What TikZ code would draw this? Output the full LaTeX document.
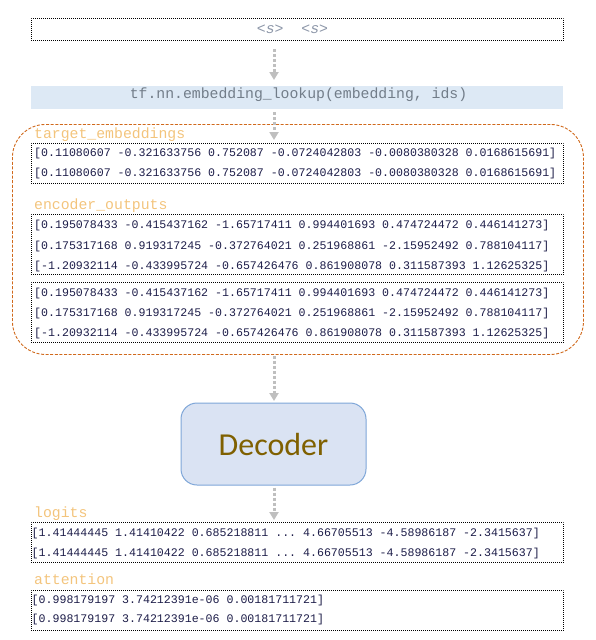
\documentclass[tikz,border=0pt]{standalone}
\usepackage{fontspec}
\setmonofont{Liberation Mono}
\newfontfamily\decfont{Carlito}
\usetikzlibrary{arrows.meta}
\definecolor{arrowgray}{HTML}{BFBFBF}
\definecolor{navytxt}{HTML}{1C1C48}
\definecolor{lblorange}{HTML}{F3C47C}
\definecolor{bandblue}{HTML}{DDE9F5}
\definecolor{bandtxt}{HTML}{727D89}
\definecolor{stxt}{HTML}{8C96A8}
\definecolor{contorange}{HTML}{D0691C}
\definecolor{decfill}{HTML}{DAE3F3}
\definecolor{decdraw}{HTML}{7EA6D8}
\definecolor{dectxt}{HTML}{7F6000}
\begin{document}
\begin{tikzpicture}[x=1pt,y=-1pt,
  dbox/.style={draw=black, line width=0.8pt, dash pattern=on 0.8pt off 1.2pt,
    minimum width=532pt, inner sep=0pt, anchor=north west},
  rowtxt/.style={anchor=base west, inner sep=0pt, font=\fontsize{11.6}{13}\ttfamily, text=navytxt},
  lbl/.style={anchor=base west, inner sep=0pt, font=\fontsize{14.8}{16}\ttfamily, text=lblorange},
  flow/.style={draw=arrowgray, line width=3pt, dash pattern=on 3pt off 2pt,
    -{Triangle[width=9pt,length=8pt]}}
]
\useasboundingbox (0,0) rectangle (596,640);
\coordinate (ax) at (274,0);

% top box
\node[dbox, minimum height=22pt] (top) at (31,18) {};
\node[anchor=center, inner sep=0pt, font=\fontsize{14.8}{16}\ttfamily\itshape, text=stxt] (stxt) at (292.5,29) {<s>\ \ <s>};

% embedding lookup band
\node[fill=bandblue, minimum width=532pt, minimum height=23pt, inner sep=0pt, anchor=north west] (band) at (31,86) {};
\node[anchor=base, inner sep=0pt, font=\fontsize{14.8}{16}\ttfamily, text=bandtxt] (bandtxt) at (298.5,98.5) {tf.nn.embedding\_lookup(embedding, ids)};

% container
\node[draw=contorange, line width=0.9pt, dash pattern=on 3pt off 1.6pt, rounded corners=33pt,
  minimum width=571pt, minimum height=230pt, inner sep=0pt, anchor=north west] (cont) at (12,124) {};

% target embeddings
\node[lbl] (tel) at (34,138) {target\_embeddings};
\node[dbox, minimum height=40pt] (te) at (31,143) {};
\node[rowtxt] (te1) at (34,156.6) {[0.11080607 -0.321633756 0.752087 -0.0724042803 -0.0080380328 0.0168615691]};
\node[rowtxt] (te2) at (34,176.6) {[0.11080607 -0.321633756 0.752087 -0.0724042803 -0.0080380328 0.0168615691]};

% encoder outputs
\node[lbl] (eol) at (34,209.5) {encoder\_outputs};
\node[dbox, minimum height=60pt] (eo1) at (31,214) {};
\node[rowtxt] (eo11) at (34,228.8) {[0.195078433 -0.415437162 -1.65717411 0.994401693 0.474724472 0.446141273]};
\node[rowtxt] (eo12) at (34,249.2) {[0.175317168 0.919317245 -0.372764021 0.251968861 -2.15952492 0.788104117]};
\node[rowtxt] (eo13) at (34,269.4) {[-1.20932114 -0.433995724 -0.657426476 0.861908078 0.311587393 1.12625325]};
\node[dbox, minimum height=60pt] (eo2) at (31,282) {};
\node[rowtxt] (eo21) at (34,296.9) {[0.195078433 -0.415437162 -1.65717411 0.994401693 0.474724472 0.446141273]};
\node[rowtxt] (eo22) at (34,316.9) {[0.175317168 0.919317245 -0.372764021 0.251968861 -2.15952492 0.788104117]};
\node[rowtxt] (eo23) at (34,336.9) {[-1.20932114 -0.433995724 -0.657426476 0.861908078 0.311587393 1.12625325]};

% decoder
\node[draw=decdraw, line width=1pt, fill=decfill, rounded corners=16pt,
  minimum width=185pt, minimum height=82pt, inner sep=0pt,
  font=\decfont\fontsize{32}{36}\selectfont, text=dectxt] (dec) at (273.5,444) {Decoder};

% logits
\node[lbl] (lgl) at (34,517) {logits};
\node[dbox, minimum height=40pt] (lg) at (31,522) {};
\node[rowtxt] (lg1) at (31.5,536.8) {[1.41444445 1.41410422 0.685218811 ... 4.66705513 -4.58986187 -2.3415637]};
\node[rowtxt] (lg2) at (31.5,556.2) {[1.41444445 1.41410422 0.685218811 ... 4.66705513 -4.58986187 -2.3415637]};

% attention
\node[lbl] (atl) at (34,584) {attention};
\node[dbox, minimum height=40pt] (at) at (31,590) {};
\node[rowtxt] (at1) at (31.5,603.6) {[0.998179197 3.74212391e-06 0.00181711721]};
\node[rowtxt] (at2) at (31.5,622.6) {[0.998179197 3.74212391e-06 0.00181711721]};

% flow arrows
\coordinate (a2end) at (274,140);
\draw[flow, shorten <=8pt, shorten >=6pt] (top.south -| ax) -- (band.north -| ax);
\draw[flow, shorten <=3pt] (band.south -| ax) -- (a2end);
\draw[flow, shorten <=1pt, shorten >=1.5pt] (cont.south -| ax) -- (dec.north -| ax);
\draw[flow, shorten <=2pt, shorten >=2pt] (dec.south -| ax) -- (lg.north -| ax);
\end{tikzpicture}
\end{document}
